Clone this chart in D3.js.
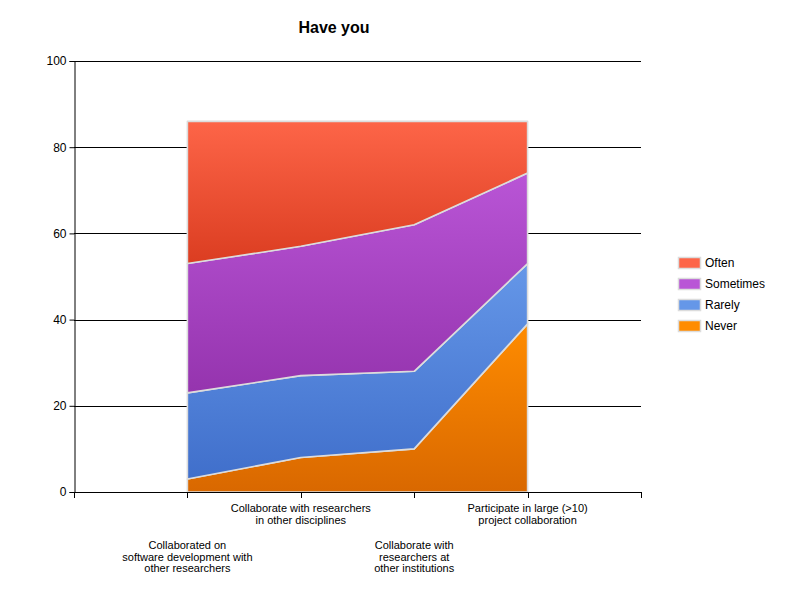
<!DOCTYPE html>
<html>
<head>
<meta charset="utf-8">
<script src="https://cdn.jsdelivr.net/npm/d3@7"></script>
<style>
  body { margin: 0; background: #fff; }
  svg { font-family: "Liberation Sans", Arial, sans-serif; }
</style>
</head>
<body>
<div id="chart"></div>
<script>
// Survey categories (x axis) and stacked series
var categories = [
  "Collaborated on\nsoftware development with\nother researchers",
  "Collaborate with researchers\nin other disciplines",
  "Collaborate with\nresearchers at\nother institutions",
  "Participate in large (>10)\nproject collaboration"
];
var seriesNames = ["Never", "Rarely", "Sometimes", "Often"];
var never     = [3, 8, 10, 39];
var rarely    = [20, 19, 18, 14];
var sometimes = [30, 30, 34, 21];
var often     = [33, 29, 24, 12];
var yTicks = [0, 20, 40, 60, 80, 100];
var title = "Have you";

var colors = {
  Never:     ["#ff8c00", "#d96800"],
  Rarely:    ["#6597e8", "#406fcb"],
  Sometimes: ["#b955d6", "#9534ae"],
  Often:     ["#fd6548", "#db3d21"]
};

var width = 800, height = 600;
var plotLeft = 74, plotRight = 641, plotTop = 61, plotBottom = 492;

var rows = categories.map(function(c, i) {
  return { cat: c, Never: never[i], Rarely: rarely[i], Sometimes: sometimes[i], Often: often[i] };
});
var stacked = d3.stack().keys(seriesNames)(rows);

var x = d3.scalePoint()
  .domain(d3.range(categories.length))
  .range([plotLeft, plotRight])
  .padding(1);
var step = x.step();

var y = d3.scaleLinear()
  .domain([0, 100])
  .range([plotBottom, plotTop]);

var svg = d3.select("#chart").append("svg")
  .attr("width", width)
  .attr("height", height);

var defs = svg.append("defs");
seriesNames.forEach(function(name) {
  var g = defs.append("linearGradient")
    .attr("id", "grad-" + name)
    .attr("x1", 0).attr("y1", 0).attr("x2", 0).attr("y2", 1);
  g.append("stop").attr("offset", "0%").attr("stop-color", colors[name][0]);
  g.append("stop").attr("offset", "100%").attr("stop-color", colors[name][1]);
});

// title
svg.append("text")
  .attr("x", 334).attr("y", 33)
  .attr("text-anchor", "middle")
  .attr("font-size", "16px")
  .attr("font-weight", "bold")
  .text(title);

// horizontal grid lines
svg.append("g").selectAll("line")
  .data(yTicks.slice(1))
  .enter().append("line")
    .attr("x1", plotLeft).attr("x2", plotRight)
    .attr("y1", function(d) { return Math.round(y(d)) + 0.5; })
    .attr("y2", function(d) { return Math.round(y(d)) + 0.5; })
    .attr("stroke", "#000");

// stacked areas
var area = d3.area()
  .x(function(d, i) { return x(i); })
  .y0(function(d) { return y(d[0]); })
  .y1(function(d) { return y(d[1]); });

svg.append("g").selectAll("path")
  .data(stacked)
  .enter().append("path")
    .attr("d", area)
    .attr("fill", function(d) { return "url(#grad-" + d.key + ")"; })
    .attr("stroke", "#dcdcdc")
    .attr("stroke-width", 1.6)
    .attr("stroke-linejoin", "round");

// y axis
var yAxis = svg.append("g")
  .attr("transform", "translate(" + (plotLeft + 0.5) + ",0)")
  .call(d3.axisLeft(y).tickValues(yTicks).tickSize(5).tickPadding(3));
yAxis.select(".domain").attr("stroke", "#000");
yAxis.selectAll(".tick line").attr("stroke", "#000");
yAxis.selectAll("text")
  .attr("font-size", "12px")
  .attr("fill", "#000")
  .attr("font-family", "Liberation Sans, Arial, sans-serif");

// x axis line and ticks
var xg = svg.append("g");
xg.append("line")
  .attr("x1", plotLeft).attr("x2", plotRight + 1)
  .attr("y1", plotBottom + 0.5).attr("y2", plotBottom + 0.5)
  .attr("stroke", "#000");
var tickPos = d3.range(-1, categories.length + 1).map(function(i) { return x(0) + i * step; });
xg.selectAll("line.tick")
  .data(tickPos)
  .enter().append("line")
    .attr("class", "tick")
    .attr("x1", function(d) { return Math.round(d) + 0.5; })
    .attr("x2", function(d) { return Math.round(d) + 0.5; })
    .attr("y1", plotBottom).attr("y2", plotBottom + 6)
    .attr("stroke", "#000");

// category labels, staggered in two rows
xg.selectAll("text.cat")
  .data(categories)
  .enter().append("text")
    .attr("class", "cat")
    .attr("text-anchor", "middle")
    .attr("font-size", "11px")
    .attr("fill", "#000")
    .each(function(d, i) {
      var t = d3.select(this);
      var y0 = (i % 2 === 1) ? 512 : 549;
      d.split("\n").forEach(function(line, k) {
        t.append("tspan")
          .attr("x", x(i))
          .attr("y", y0 + k * 11.5)
          .text(line);
      });
    });

// legend
var legend = svg.append("g");
var legendItems = seriesNames.slice().reverse();
var li = legend.selectAll("g")
  .data(legendItems)
  .enter().append("g")
    .attr("transform", function(d, i) { return "translate(678," + (257 + i * 21) + ")"; });
li.append("rect")
  .attr("x", 0.5).attr("y", 0.5)
  .attr("width", 22).attr("height", 11)
  .attr("fill", function(d) { return colors[d][0]; })
  .attr("stroke", "#dcdcdc")
  .attr("stroke-width", 1.5);
li.append("text")
  .attr("x", 27).attr("y", 10)
  .attr("font-size", "12px")
  .attr("fill", "#000")
  .text(function(d) { return d; });
</script>
</body>
</html>
